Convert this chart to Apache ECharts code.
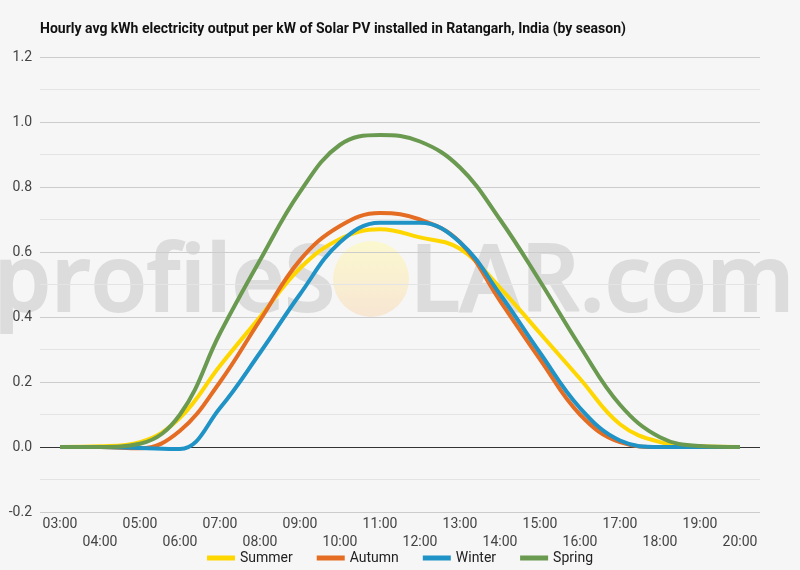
<!DOCTYPE html>
<html>
<head>
<meta charset="utf-8">
<script src="https://cdn.jsdelivr.net/npm/echarts@6/dist/echarts.min.js"></script>
<style>
  html, body { margin: 0; padding: 0; background: #f6f6f6; }
  #main { width: 800px; height: 570px; }
</style>
</head>
<body>
<div id="main"></div>
<script>
// hours of the day
let hours = ['03:00','04:00','05:00','06:00','07:00','08:00','09:00','10:00','11:00',
             '12:00','13:00','14:00','15:00','16:00','17:00','18:00','19:00','20:00'];

// avg kWh per kW installed
let summer = [0, 0.002, 0.015, 0.09, 0.25, 0.40, 0.55, 0.64, 0.67, 0.645, 0.61, 0.49, 0.35, 0.21, 0.07, 0.015, 0.002, 0];
let autumn = [0, 0, -0.004, 0.05, 0.20, 0.39, 0.575, 0.68, 0.72, 0.70, 0.63, 0.45, 0.27, 0.10, 0.015, 0, 0, 0];
let winter = [0, 0, -0.003, -0.006, 0.12, 0.29, 0.47, 0.63, 0.69, 0.69, 0.63, 0.47, 0.29, 0.12, 0.02, 0, 0, 0];
let spring = [0, 0, 0.01, 0.10, 0.35, 0.575, 0.785, 0.93, 0.96, 0.94, 0.86, 0.70, 0.51, 0.31, 0.13, 0.03, 0.003, 0];

let colors = ['#FFD700', '#E46C23', '#1F92C6', '#6A9950'];

let myChart = echarts.init(document.getElementById('main'));

let makeSeries = function (name, data) {
    return {
        name: name,
        type: 'line',
        data: data,
        smooth: 0.4,
        symbol: 'none',
        lineStyle: { width: 4 }
    };
};

let series = [
    makeSeries('Summer', summer),
    makeSeries('Autumn', autumn),
    makeSeries('Winter', winter),
    makeSeries('Spring', spring)
];
// black baseline at zero
series[0].markLine = {
    silent: true,
    symbol: 'none',
    label: { show: false },
    lineStyle: { color: '#333', width: 1, type: 'solid' },
    data: [{ yAxis: 0 }],
    z: 1
};

// watermark
let wmFont = '600 92px "Open Sans"';
let wmColor = '#dcdcdc';

let option = {
    backgroundColor: '#f6f6f6',
    color: colors,
    textStyle: { fontFamily: 'Roboto' },
    title: {
        text: 'Hourly avg kWh electricity output per kW of Solar PV installed in Ratangarh, India (by season)',
        left: 35,
        top: 17,
        textStyle: { fontSize: 14, fontWeight: 'bold', color: '#111', fontFamily: 'Roboto' }
    },
    legend: {
        bottom: 0,
        left: 'center',
        itemWidth: 28,
        itemHeight: 5,
        itemGap: 24,
        icon: 'rect',
        textStyle: { fontSize: 14, color: '#222' },
        data: ['Summer', 'Autumn', 'Winter', 'Spring']
    },
    grid: { left: 40, right: 40, top: 57, bottom: 58 },
    xAxis: {
        type: 'category',
        data: hours,
        boundaryGap: true,
        axisLine: { show: false },
        axisTick: { show: false },
        axisLabel: {
            interval: 0,
            margin: 3,
            fontSize: 14,
            lineHeight: 18,
            color: '#444',
            formatter: function (value, index) {
                return index % 2 ? '\n' + value : value;
            }
        }
    },
    yAxis: {
        type: 'value',
        min: -0.2,
        max: 1.2,
        interval: 0.2,
        axisLine: { show: false },
        axisTick: { show: false },
        axisLabel: {
            fontSize: 14,
            color: '#444',
            margin: 8,
            formatter: function (v) { return v.toFixed(1); }
        },
        splitLine: { lineStyle: { color: '#cccccc' } },
        minorTick: { show: false, splitNumber: 2 },
        minorSplitLine: { show: true, lineStyle: { color: '#e4e4e4' } }
    },
    graphic: [
        {
            type: 'text',
            z: -1,
            silent: true,
            style: {
                text: 'profileS',
                x: 335,
                y: 285,
                align: 'right',
                verticalAlign: 'middle',
                font: wmFont,
                fill: wmColor,
                stroke: wmColor,
                lineWidth: 2
            }
        },
        {
            type: 'circle',
            z: -1,
            silent: true,
            shape: { cx: 371, cy: 279, r: 38 },
            style: {
                fill: new echarts.graphic.LinearGradient(0, 0, 0, 1, [
                    { offset: 0, color: '#fbf8cf' },
                    { offset: 1, color: '#f7e6d3' }
                ])
            }
        },
        {
            type: 'text',
            z: -1,
            silent: true,
            style: {
                text: 'LAR.com',
                x: 410,
                y: 285,
                align: 'left',
                verticalAlign: 'middle',
                font: wmFont,
                fill: wmColor,
                stroke: wmColor,
                lineWidth: 2
            }
        }
    ],
    series: series
};

myChart.setOption(option);
</script>
</body>
</html>
